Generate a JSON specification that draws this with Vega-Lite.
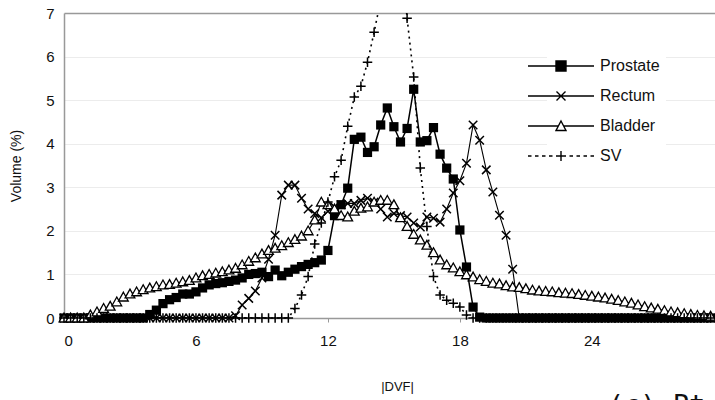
{
  "$schema": "https://vega.github.io/schema/vega-lite/v6.json",
  "width": 651,
  "height": 305,
  "autosize": {"type": "none"},
  "padding": {"left": 64, "top": 13, "right": 0, "bottom": 82},
  "background": "white",
  "title": {"text": "(c) Pt. 1", "orient": "bottom", "anchor": "start", "dx": 598, "offset": 0, "font": "DejaVu Sans Mono", "fontSize": 27, "fontWeight": "normal", "color": "#111", "baseline": "top"},
  "config": {
    "view": {"stroke": null},
    "font": "Liberation Sans",
    "axis": {"labelFont": "Liberation Sans", "labelFontSize": 15, "labelColor": "#111", "titleFont": "Liberation Sans", "titleFontWeight": "normal", "titleColor": "#111", "titleFontSize": 13, "domainColor": "#999", "domainWidth": 1.5}
  },
  "data": {"values": [
    {"x": 0, "P": 0, "R": 0, "B": 0, "S": 0},
    {"x": 0.3, "P": 0, "R": 0, "B": 0, "S": 0},
    {"x": 0.6, "P": 0, "R": 0, "B": 0, "S": 0},
    {"x": 0.9, "P": 0, "R": 0, "B": 0, "S": 0},
    {"x": 1.2, "P": 0, "R": 0, "B": 0.07, "S": 0},
    {"x": 1.5, "P": 0, "R": 0, "B": 0.14, "S": 0},
    {"x": 1.8, "P": 0, "R": 0, "B": 0.22, "S": 0},
    {"x": 2.1, "P": 0, "R": 0, "B": 0.27, "S": 0},
    {"x": 2.4, "P": 0, "R": 0, "B": 0.37, "S": 0},
    {"x": 2.7, "P": 0, "R": 0, "B": 0.48, "S": 0},
    {"x": 3.0, "P": 0, "R": 0, "B": 0.55, "S": 0},
    {"x": 3.3, "P": 0, "R": 0, "B": 0.6, "S": 0},
    {"x": 3.6, "P": 0, "R": 0, "B": 0.65, "S": 0},
    {"x": 3.9, "P": 0.08, "R": 0, "B": 0.69, "S": 0},
    {"x": 4.2, "P": 0.18, "R": 0, "B": 0.72, "S": 0},
    {"x": 4.5, "P": 0.33, "R": 0, "B": 0.76, "S": 0},
    {"x": 4.8, "P": 0.42, "R": 0, "B": 0.77, "S": 0},
    {"x": 5.1, "P": 0.47, "R": 0, "B": 0.8, "S": 0},
    {"x": 5.4, "P": 0.55, "R": 0, "B": 0.83, "S": 0},
    {"x": 5.7, "P": 0.55, "R": 0, "B": 0.86, "S": 0},
    {"x": 6.0, "P": 0.6, "R": 0, "B": 0.92, "S": 0},
    {"x": 6.3, "P": 0.69, "R": 0, "B": 0.97, "S": 0},
    {"x": 6.6, "P": 0.76, "R": 0, "B": 1.0, "S": 0},
    {"x": 6.9, "P": 0.79, "R": 0, "B": 1.03, "S": 0},
    {"x": 7.2, "P": 0.81, "R": 0, "B": 1.06, "S": 0},
    {"x": 7.5, "P": 0.84, "R": 0, "B": 1.1, "S": 0},
    {"x": 7.8, "P": 0.87, "R": 0.05, "B": 1.14, "S": 0},
    {"x": 8.1, "P": 0.92, "R": 0.3, "B": 1.22, "S": 0},
    {"x": 8.4, "P": 1.0, "R": 0.45, "B": 1.3, "S": 0},
    {"x": 8.7, "P": 1.02, "R": 0.62, "B": 1.38, "S": 0},
    {"x": 9.0, "P": 1.05, "R": 0.92, "B": 1.47, "S": 0},
    {"x": 9.3, "P": 0.95, "R": 1.35, "B": 1.55, "S": 0},
    {"x": 9.6, "P": 1.1, "R": 1.9, "B": 1.6, "S": 0},
    {"x": 9.9, "P": 0.97, "R": 2.82, "B": 1.66, "S": 0},
    {"x": 10.2, "P": 1.05, "R": 3.05, "B": 1.73, "S": 0},
    {"x": 10.5, "P": 1.12, "R": 3.05, "B": 1.8, "S": 0.22},
    {"x": 10.8, "P": 1.18, "R": 2.75, "B": 1.88, "S": 0.53},
    {"x": 11.1, "P": 1.23, "R": 2.5, "B": 2.0, "S": 0.95},
    {"x": 11.4, "P": 1.27, "R": 2.4, "B": 2.25, "S": 1.7},
    {"x": 11.7, "P": 1.33, "R": 2.3, "B": 2.66, "S": 2.18},
    {"x": 12.0, "P": 1.55, "R": 2.45, "B": 2.6, "S": 2.66},
    {"x": 12.3, "P": 2.35, "R": 2.55, "B": 2.5, "S": 3.24},
    {"x": 12.6, "P": 2.6, "R": 2.6, "B": 2.35, "S": 3.62},
    {"x": 12.9, "P": 2.98, "R": 2.63, "B": 2.32, "S": 4.4},
    {"x": 13.2, "P": 4.1, "R": 2.63, "B": 2.45, "S": 5.07},
    {"x": 13.5, "P": 4.15, "R": 2.7, "B": 2.52, "S": 5.32},
    {"x": 13.8, "P": 3.8, "R": 2.75, "B": 2.55, "S": 5.87},
    {"x": 14.1, "P": 3.93, "R": 2.66, "B": 2.66, "S": 6.56},
    {"x": 14.4, "P": 4.43, "R": 2.5, "B": 2.7, "S": 7.3},
    {"x": 14.7, "P": 4.82, "R": 2.32, "B": 2.7, "S": 8.5},
    {"x": 15.0, "P": 4.39, "R": 2.4, "B": 2.6, "S": 9.2},
    {"x": 15.3, "P": 4.04, "R": 2.35, "B": 2.3, "S": 8.6},
    {"x": 15.6, "P": 4.35, "R": 2.32, "B": 2.1, "S": 6.88},
    {"x": 15.9, "P": 5.25, "R": 2.18, "B": 1.92, "S": 5.53},
    {"x": 16.2, "P": 4.04, "R": 2.09, "B": 1.79, "S": 3.44},
    {"x": 16.5, "P": 4.07, "R": 2.32, "B": 1.67, "S": 2.1},
    {"x": 16.8, "P": 4.37, "R": 2.29, "B": 1.5, "S": 0.95},
    {"x": 17.1, "P": 3.76, "R": 2.2, "B": 1.33, "S": 0.53},
    {"x": 17.4, "P": 3.44, "R": 2.5, "B": 1.22, "S": 0.41},
    {"x": 17.7, "P": 3.19, "R": 2.87, "B": 1.15, "S": 0.34},
    {"x": 18.0, "P": 2.02, "R": 3.15, "B": 1.06, "S": 0.25},
    {"x": 18.3, "P": 1.17, "R": 3.55, "B": 0.99, "S": 0.07},
    {"x": 18.6, "P": 0.25, "R": 4.43, "B": 0.94, "S": 0},
    {"x": 18.9, "P": 0.02, "R": 4.08, "B": 0.88, "S": 0},
    {"x": 19.2, "P": 0, "R": 3.4, "B": 0.84, "S": 0},
    {"x": 19.5, "P": 0, "R": 2.89, "B": 0.8, "S": 0},
    {"x": 19.8, "P": 0, "R": 2.36, "B": 0.78, "S": 0},
    {"x": 20.1, "P": 0, "R": 1.9, "B": 0.74, "S": 0},
    {"x": 20.4, "P": 0, "R": 1.12, "B": 0.71, "S": 0},
    {"x": 20.7, "P": 0, "R": 0, "B": 0.7, "S": 0},
    {"x": 21.0, "P": 0, "R": 0, "B": 0.67, "S": 0},
    {"x": 21.3, "P": 0, "R": 0, "B": 0.64, "S": 0},
    {"x": 21.6, "P": 0, "R": 0, "B": 0.62, "S": 0},
    {"x": 21.9, "P": 0, "R": 0, "B": 0.61, "S": 0},
    {"x": 22.2, "P": 0, "R": 0, "B": 0.6, "S": 0},
    {"x": 22.5, "P": 0, "R": 0, "B": 0.58, "S": 0},
    {"x": 22.8, "P": 0, "R": 0, "B": 0.57, "S": 0},
    {"x": 23.1, "P": 0, "R": 0, "B": 0.56, "S": 0},
    {"x": 23.4, "P": 0, "R": 0, "B": 0.54, "S": 0},
    {"x": 23.7, "P": 0, "R": 0, "B": 0.52, "S": 0},
    {"x": 24.0, "P": 0, "R": 0, "B": 0.5, "S": 0},
    {"x": 24.3, "P": 0, "R": 0, "B": 0.48, "S": 0},
    {"x": 24.6, "P": 0, "R": 0, "B": 0.46, "S": 0},
    {"x": 24.9, "P": 0, "R": 0, "B": 0.43, "S": 0},
    {"x": 25.2, "P": 0, "R": 0, "B": 0.4, "S": 0},
    {"x": 25.5, "P": 0, "R": 0, "B": 0.37, "S": 0},
    {"x": 25.8, "P": 0, "R": 0, "B": 0.34, "S": 0},
    {"x": 26.1, "P": 0, "R": 0, "B": 0.3, "S": 0},
    {"x": 26.4, "P": 0, "R": 0, "B": 0.26, "S": 0},
    {"x": 26.7, "P": 0, "R": 0, "B": 0.23, "S": 0},
    {"x": 27.0, "P": 0, "R": 0, "B": 0.2, "S": 0},
    {"x": 27.3, "P": 0, "R": 0, "B": 0.17, "S": 0},
    {"x": 27.6, "P": 0, "R": 0, "B": 0.14, "S": 0},
    {"x": 27.9, "P": 0, "R": 0, "B": 0.12, "S": 0},
    {"x": 28.2, "P": 0, "R": 0, "B": 0.1, "S": 0},
    {"x": 28.5, "P": 0, "R": 0, "B": 0.08, "S": 0},
    {"x": 28.8, "P": 0, "R": 0, "B": 0.06, "S": 0},
    {"x": 29.1, "P": 0, "R": 0, "B": 0.05, "S": 0},
    {"x": 29.4, "P": 0, "R": 0, "B": 0.04, "S": 0}
  ]},
  "encoding": {
    "x": {"field": "x", "type": "quantitative", "scale": {"domain": [0, 29.6], "nice": false, "zero": false},
      "axis": {"values": [0, 6, 12, 18, 24], "grid": false, "tickSize": 4, "tickColor": "#999", "labelPadding": 11, "title": "|DVF|", "titlePadding": 32, "titleX": 333}}
  },
  "layer": [
    {"mark": {"type": "line", "color": "black", "strokeWidth": 1.5, "clip": true},
     "encoding": {"y": {"field": "P", "type": "quantitative", "title": "Volume (%)", "scale": {"domain": [0, 7], "nice": false},
       "axis": {"values": [0, 1, 2, 3, 4, 5, 6, 7], "ticks": false, "labelPadding": 10, "titlePadding": 22, "titleFontSize": 14,
         "gridColor": {"condition": {"test": "datum.value === 7", "value": "#999"}, "value": "#ececec"},
         "gridWidth": {"condition": {"test": "datum.value === 7", "value": 1.5}, "value": 1}}}}},
    {"mark": {"type": "point", "shape": "square", "size": 85, "filled": true, "color": "black", "opacity": 1},
     "encoding": {"y": {"field": "P", "type": "quantitative", "title": "Volume (%)"}}},
    {"mark": {"type": "line", "color": "black", "strokeWidth": 1.1, "clip": true},
     "encoding": {"y": {"field": "R", "type": "quantitative", "title": "Volume (%)"}}},
    {"mark": {"type": "point", "shape": "M-1,-1L1,1M-1,1L1,-1", "size": 72, "filled": false, "stroke": "black", "strokeWidth": 1.5, "opacity": 1},
     "encoding": {"y": {"field": "R", "type": "quantitative", "title": "Volume (%)"}}},
    {"mark": {"type": "line", "color": "black", "strokeWidth": 1.1, "clip": true},
     "encoding": {"y": {"field": "B", "type": "quantitative", "title": "Volume (%)"}}},
    {"mark": {"type": "point", "shape": "M0,-1L1,0.8H-1Z", "size": 95, "filled": true, "fill": "white", "stroke": "black", "strokeWidth": 1.3, "opacity": 1},
     "encoding": {"y": {"field": "B", "type": "quantitative", "title": "Volume (%)"}}},
    {"mark": {"type": "line", "color": "black", "strokeWidth": 1.6, "strokeDash": [2, 4], "clip": true},
     "encoding": {"y": {"field": "S", "type": "quantitative", "title": "Volume (%)"}}},
    {"transform": [{"filter": "datum.S <= 7"}],
     "mark": {"type": "point", "shape": "M-1,0H1M0,-1V1", "size": 90, "filled": false, "stroke": "black", "strokeWidth": 1.5, "opacity": 1},
     "encoding": {"y": {"field": "S", "type": "quantitative", "title": "Volume (%)"}}},
    {"data": {"values": []},
     "mark": {"type": "point", "filled": false, "strokeWidth": 1.4, "opacity": 1},
     "encoding": {
       "shape": {"field": "series", "type": "nominal", "title": null,
         "scale": {"domain": ["Prostate", "Rectum", "Bladder", "SV"],
           "range": ["M-6.6,0H6.6M-1,-1H1V1H-1Z",
                     "M-6.6,0H6.6M-0.9,-0.9L0.9,0.9M-0.9,0.9L0.9,-0.9",
                     "M-6.6,0H-0.53M0.53,0H6.6M0,-1L1,0.9H-1Z",
                     "M-6.6,0H-5.9M-5.2,0H-4.5M-3.8,0H-3.1M-2.4,0H-1.7M-1.0,0H-0.3M0.3,0H1.0M1.7,0H2.4M3.1,0H3.8M4.5,0H5.2M5.9,0H6.6M0,-1V1M-1,0H1"]},
         "legend": {"orient": "none", "legendX": 483, "legendY": 39, "labelFont": "Liberation Sans", "labelFontSize": 16, "labelColor": "#111", "symbolSize": 100, "symbolStrokeWidth": 1.4, "labelOffset": 31, "rowPadding": 14, "padding": 6, "fillColor": "white"}},
       "stroke": {"field": "series", "type": "nominal", "title": null,
         "scale": {"domain": ["Prostate", "Rectum", "Bladder", "SV"], "range": ["black", "black", "black", "black"]},
         "legend": {"orient": "none", "legendX": 483, "legendY": 39, "labelFont": "Liberation Sans", "labelFontSize": 16, "labelColor": "#111", "symbolSize": 100, "symbolStrokeWidth": 1.4, "labelOffset": 31, "rowPadding": 14, "padding": 6, "fillColor": "white"}},
       "fill": {"field": "series", "type": "nominal", "title": null,
         "scale": {"domain": ["Prostate", "Rectum", "Bladder", "SV"], "range": ["black", "white", "white", "white"]},
         "legend": {"orient": "none", "legendX": 483, "legendY": 39, "labelFont": "Liberation Sans", "labelFontSize": 16, "labelColor": "#111", "symbolSize": 100, "symbolStrokeWidth": 1.4, "labelOffset": 31, "rowPadding": 14, "padding": 6, "fillColor": "white"}}
     }}
  ]
}
